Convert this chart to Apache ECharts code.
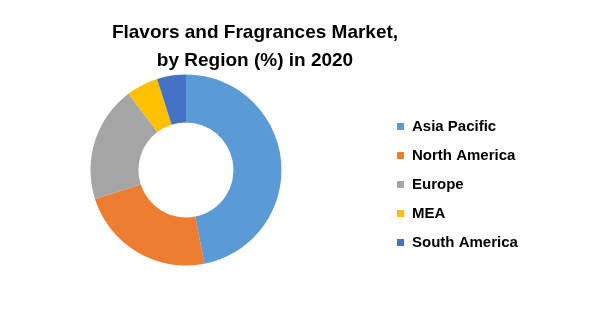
<!DOCTYPE html>
<html><head><meta charset="utf-8">
<script src="https://cdn.jsdelivr.net/npm/echarts@6/dist/echarts.min.js"></script>
<style>html,body{margin:0;padding:0;background:#fff}#c{width:611px;height:319px}</style>
</head><body><div id="c"></div>
<script>
var categories = ['Asia Pacific', 'North America', 'Europe', 'MEA', 'South America'];
var values = [46.9, 23.2, 19.6, 5.4, 4.9];
var colors = ['#5B9BD5', '#ED7D31', '#A5A5A5', '#FFC000', '#4472C4'];
var titleText = 'Flavors and Fragrances Market,\nby Region (%) in 2020';

var chart = echarts.init(document.getElementById('c'), null, {renderer: 'canvas'});
chart.setOption({
  animation: false,
  backgroundColor: '#fff',
  title: {
    text: titleText,
    left: 255, top: 19, textAlign: 'center', padding: 0,
    textStyle: {fontFamily: 'Liberation Sans, Arial', fontWeight: 'bold', fontSize: 19, lineHeight: 28, color: '#000'}
  },
  legend: {
    orient: 'vertical', left: 397, top: 119, padding: 0,
    icon: 'rect', itemWidth: 7, itemHeight: 7, itemGap: 14,
    data: categories,
    textStyle: {fontFamily: 'Liberation Sans, Arial', fontWeight: 'bold', fontSize: 15, lineHeight: 15, color: '#000', padding: [0,0,0,3]}
  },
  series: [{
    type: 'pie',
    center: [186, 170],
    radius: [47.5, 95.5],
    startAngle: 90,
    clockwise: true,
    label: {show: false},
    labelLine: {show: false},
    data: categories.map(function (n, i) { return {name: n, value: values[i], itemStyle: {color: colors[i]}}; })
  }]
});
</script></body></html>
